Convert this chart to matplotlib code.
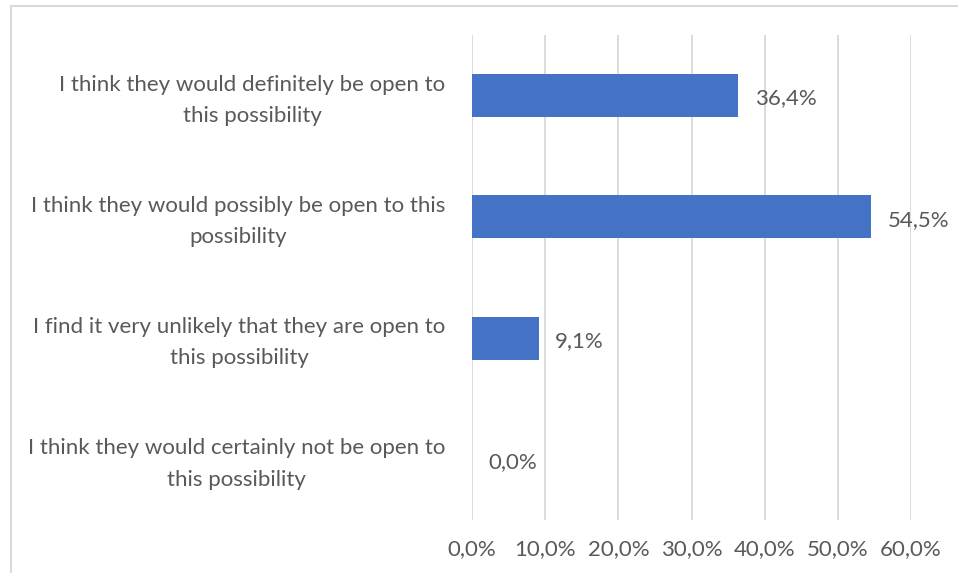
import matplotlib.pyplot as plt
from matplotlib.lines import Line2D
from matplotlib.transforms import ScaledTranslation

# respuestas (de arriba hacia abajo) y porcentaje de cada una
categorias = [
    "I think they would definitely be open to\nthis possibility",
    "I think they would possibly be open to this\npossibility",
    "I find it very unlikely that they are open to\nthis possibility",
    "I think they would certainly not be open to\nthis possibility",
]
valores = [36.4, 54.5, 9.1, 0.0]
ticks = [0, 10, 20, 30, 40, 50, 60]

azul = "#4472C4"
gris_txt = "#595959"
gris_lin = "#D9D9D9"

def pct(v):
    return f"{v:.1f}".replace(".", ",") + "%"

plt.rcParams["font.family"] = ["Lato", "DejaVu Sans"]

fig = plt.figure(figsize=(9.58, 5.73), dpi=100)
ax = fig.add_axes([0.4927, 0.0925, 0.4583, 0.8464])

pos = list(range(len(categorias)))
ax.barh(pos, valores, height=0.355, color=azul, zorder=3)
ax.set_ylim(len(categorias) - 0.5, -0.5)
ax.set_xlim(0, 60)

for p, v in zip(pos, valores):
    ax.annotate(pct(v), (v, p), xytext=(12, -2), textcoords="offset points",
                va="center", ha="left", fontsize=16, color=gris_txt)

ax.set_xticks(ticks)
ax.set_xticklabels([pct(t) for t in ticks])
ax.set_yticks(pos)
ax.set_yticklabels(categorias, ha="right", multialignment="center", linespacing=1.7)
ax.tick_params(axis="x", length=0, pad=14, labelsize=16, labelcolor=gris_txt)
ax.tick_params(axis="y", length=0, pad=19, labelsize=16, labelcolor=gris_txt)
# subir un poco las etiquetas de las categorías
subir = ScaledTranslation(0, 3 / 100, fig.dpi_scale_trans)
for lab in ax.get_yticklabels():
    lab.set_transform(lab.get_transform() + subir)
ax.grid(axis="x", color=gris_lin, linewidth=1.3, zorder=0)
for s in ax.spines.values():
    s.set_visible(False)

# borde del área del gráfico (izquierda y arriba)
fig.add_artist(Line2D([11 / 958, 11 / 958], [0, 1 - 6 / 573], color=gris_lin, linewidth=1.5))
fig.add_artist(Line2D([11 / 958, 1], [1 - 6 / 573, 1 - 6 / 573], color=gris_lin, linewidth=1.5))

fig.savefig("out.png", dpi=100)
